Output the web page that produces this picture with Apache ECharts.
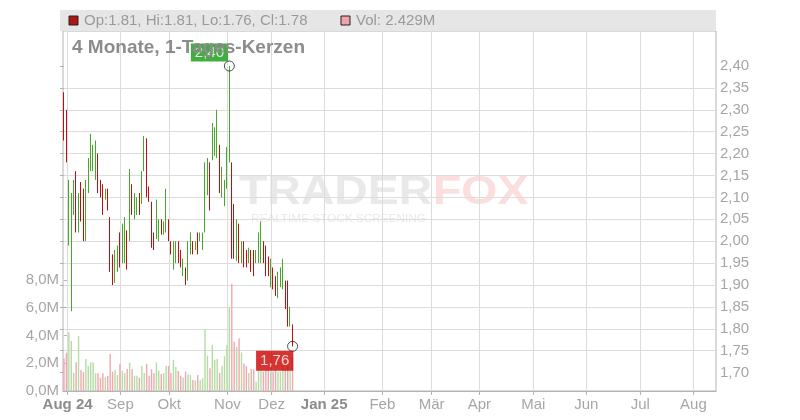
<!DOCTYPE html>
<html><head><meta charset="utf-8">
<script src="https://cdn.jsdelivr.net/npm/echarts@6/dist/echarts.min.js"></script>
<style>html,body{margin:0;padding:0;background:#fff}#c{width:800px;height:420px}</style>
</head><body><div id="c"></div><script>
const openP = [2.33,2.28,2.00,1.90,2.07,2.14,2.04,2.12,2.10,2.02, 2.12,2.17,2.17,2.15,2.19,2.13,2.12,2.10,2.11,2.04, 1.96,1.92,1.94,2.01,1.96,1.96,2.01,2.01,2.12,2.06, 2.065,2.10,2.09,2.17,2.22,2.12,2.08,2.01,2.01,2.01, 2.04,2.02,2.03,2.04,1.995,1.94,1.955,1.99,1.975,1.925, 1.935,1.915,1.975,1.995,1.985,2.01,2.005,1.985,2.03,2.11, 2.17,2.19,2.20,2.20,2.21,2.11,2.09,2.13,2.19,2.17, 2.07,1.96,2.03,1.955,1.99,1.975,1.955,1.975,1.97,1.955, 1.955,1.96,1.99,1.98,1.96,1.90,1.935,1.915,1.875,1.90, 1.895,1.905,1.90,1.81,1.81];
const closeP = [2.24,2.19,2.13,2.08,2.12,2.04,2.10,2.06,2.02,2.12, 2.18,2.23,2.21,2.22,2.12,2.10,2.07,2.115,2.08,1.94, 1.91,1.97,1.98,1.95,2.03,2.05,1.95,2.15,2.07,2.10, 2.095,2.065,2.15,2.23,2.11,2.095,2.00,1.985,2.09,2.04, 2.02,2.04,2.11,2.01,1.975,1.99,1.99,1.955,1.945,1.955, 1.905,1.99,2.01,1.975,1.995,1.975,2.015,2.015,2.17,2.18, 2.08,2.26,2.25,2.29,2.12,2.16,2.13,2.20,2.30,1.97, 1.97,2.04,1.96,1.99,1.945,1.945,1.98,1.935,1.925,1.975, 2.01,2.04,1.955,1.925,1.925,1.955,1.895,1.88,1.925,1.935, 1.955,1.85,1.81,1.845,1.78];
const lowP = [2.23,2.18,1.99,1.84,2.06,2.02,2.02,2.045,2.00,2.00, 2.11,2.16,2.16,2.14,2.11,2.10,2.06,2.095,2.07,1.93, 1.90,1.905,1.93,1.94,1.95,1.95,1.935,2.00,2.06,2.05, 2.06,2.06,2.085,2.16,2.10,2.09,1.985,1.98,2.005,2.00, 2.015,2.015,2.02,2.00,1.97,1.935,1.95,1.95,1.94,1.92, 1.90,1.91,1.97,1.97,1.98,1.97,2.00,1.98,2.02,2.105, 2.07,2.185,2.195,2.19,2.11,2.10,2.08,2.12,2.18,1.96, 1.96,1.955,1.95,1.95,1.94,1.94,1.95,1.93,1.92,1.95, 1.95,1.95,1.95,1.92,1.92,1.895,1.89,1.875,1.87,1.895, 1.89,1.845,1.805,1.805,1.76];
const highP = [2.34,2.30,2.14,2.11,2.14,2.16,2.11,2.135,2.12,2.14, 2.19,2.245,2.22,2.23,2.20,2.14,2.13,2.12,2.12,2.055, 1.97,1.98,1.99,2.02,2.04,2.055,2.025,2.165,2.13,2.11, 2.10,2.11,2.16,2.24,2.235,2.125,2.09,2.02,2.095,2.05, 2.05,2.045,2.12,2.05,2.00,2.00,2.00,2.00,1.98,1.96, 1.94,2.00,2.02,2.00,2.00,2.02,2.02,2.02,2.18,2.19, 2.18,2.27,2.26,2.30,2.22,2.17,2.14,2.215,2.40,2.18, 2.085,2.05,2.04,2.00,2.00,1.98,1.985,1.98,1.98,1.98, 2.02,2.045,2.00,1.99,1.965,1.96,1.94,1.92,1.93,1.94, 1.96,1.91,1.91,1.85,1.81];
const volumeM = [2.35,2.76,4.22,3.6,1.3,2.06,3.96,1.51,1.35,2.3, 1.8,2.06,2.06,1.27,1.27,0.96,1.27,0.98,1.08,2.66, 1.39,1.51,1.15,1.94,1.44,1.3,1.58,2.04,1.56,1.1, 1.1,0.96,1.8,1.3,1.94,1.1,1.56,1.3,2.06,1.47, 1.22,1.3,1.8,1.8,1.3,2.25,1.72,1.44,1.1,0.98, 1.39,1.2,1.15,0.8,0.75,1.15,0.8,0.92,4.44,2.54, 1.63,3.31,2.25,2.3,1.3,1.8,2.5,3.31,6.02,7.7, 3.55,3.19,3.79,2.78,1.97,1.8,1.3,1.58,1.56,0.67, 1.51,1.51,1.39,1.51,1.51,1.39,1.39,1.51,1.39,1.39, 1.8,1.51,1.8,1.51,2.43];
const priceTicks = [1.70,1.75,1.80,1.85,1.90,1.95,2.00,2.05,2.10,2.15,2.20,2.25,2.30,2.35,2.40];
const volumeTicks = [0,2,4,6,8];
const monthTickPos = [1.5,23.2,43.3,67.2,85.4,107,130.9,151.2,170.8,193,214.8,237,258.8];
const monthLabels = ['Aug 24','Sep','Okt','Nov','Dez','Jan 25','Feb','Mär','Apr','Mai','Jun','Jul','Aug'];
const boldMonths = ['Aug 24','Jan 25'];
const headerText = 'Op:1.81, Hi:1.81, Lo:1.76, Cl:1.78';
const volText = 'Vol: 2.429M';
const titleText = '4 Monate, 1-Tages-Kerzen';

const GREEN = '#44a828', RED = '#c00d0d', VGREEN = '#b5dca4', VRED = '#f2a6ae';
const FONT = '"Liberation Sans", Arial, sans-serif';
const fmtP = v => v.toFixed(2).replace('.', ',');

const candles = openP.map((o, i) => [i, o, closeP[i], lowP[i], highP[i]]);
const vols = volumeM.map((v, i) => [i, v]);
let peakIdx = 0; highP.forEach((h, i) => { if (h > highP[peakIdx]) peakIdx = i; });
const lastIdx = lowP.length - 1;

const chart = echarts.init(document.getElementById('c'), null, {renderer: 'canvas'});
chart.setOption({
  animation: false,
  textStyle: {fontFamily: FONT},
  grid: [
    {left: 63, right: 84, top: 22.2, bottom: 25.5},
    {left: 63, right: 84, top: 31, bottom: 29, show: true, borderColor: '#b4b4b4', borderWidth: 1, backgroundColor: 'transparent'}
  ],
  xAxis: [
    {gridIndex: 0, type: 'value', min: -0.4, max: 268.1, show: false},
    {gridIndex: 1, type: 'value', min: -0.4, max: 268.1,
      axisLine: {show: true, lineStyle: {color: '#b4b4b4'}},
      axisTick: {show: true, length: 4, customValues: monthTickPos, lineStyle: {color: '#b4b4b4'}},
      splitLine: {show: true, lineStyle: {color: '#dcdcdc'}},
      axisLabel: {customValues: monthTickPos, margin: 6, fontSize: 15, color: '#a6a6a6', fontFamily: FONT,
        formatter: v => { const n = monthLabels[monthTickPos.indexOf(v)] || ''; return boldMonths.includes(n) ? '{b|' + n + '}' : n; },
        rich: {b: {fontWeight: 'bold', color: '#8c8c8c', fontSize: 15, fontFamily: FONT}}}
    }
  ],
  yAxis: [
    {gridIndex: 0, type: 'value', position: 'right', min: 1.65, max: 2.50, interval: 0.05,
      axisLine: {show: false},
      axisTick: {show: true, inside: true, length: 4, customValues: priceTicks, lineStyle: {color: '#b4b4b4'}},
      splitLine: {show: true, showMinLine: false, showMaxLine: false, lineStyle: {color: '#dcdcdc'}},
      axisLabel: {customValues: priceTicks, margin: 4, fontSize: 15, color: '#a6a6a6', fontFamily: FONT, formatter: fmtP}
    },
    {gridIndex: 1, type: 'value', position: 'left', min: 0, max: 25.9,
      axisLine: {show: false},
      axisTick: {show: true, inside: true, length: 3, customValues: volumeTicks, lineStyle: {color: '#b4b4b4'}},
      splitLine: {show: false},
      axisLabel: {customValues: volumeTicks, margin: 4, fontSize: 15, color: '#a6a6a6', fontFamily: FONT,
        formatter: v => v.toFixed(1).replace('.', ',') + 'M'}
    }
  ],
  series: [
    {type: 'bar', xAxisIndex: 1, yAxisIndex: 1, data: vols, barWidth: 1.4, z: 2,
      itemStyle: {color: p => closeP[p.dataIndex] >= openP[p.dataIndex] ? VGREEN : VRED}},
    {type: 'candlestick', xAxisIndex: 0, yAxisIndex: 0, data: candles, barWidth: 1, z: 3,
      encode: {x: 0, y: [1, 2, 3, 4]},
      itemStyle: {color: GREEN, color0: RED, borderColor: GREEN, borderColor0: RED, borderWidth: 1}},
    {type: 'scatter', xAxisIndex: 0, yAxisIndex: 0, z: 5, symbol: 'circle', symbolSize: 10,
      itemStyle: {color: 'rgba(255,255,255,0)', borderColor: '#222', borderWidth: 1},
      data: [
        {value: [peakIdx, highP[peakIdx]], label: {show: true, formatter: fmtP(highP[peakIdx]), position: [-33, -17],
          backgroundColor: '#139913', color: '#fff', fontSize: 15, lineHeight: 16, padding: [1, 4, 1, 4], fontFamily: FONT}},
        {value: [lastIdx, lowP[lastIdx]], label: {show: true, formatter: fmtP(lowP[lastIdx]), position: [-31, 10],
          backgroundColor: '#cc0000', color: '#fff', fontSize: 15, lineHeight: 16, padding: [2, 4, 2, 4], fontFamily: FONT}}
      ]}
  ],
  graphic: [
    {type: 'text', z: -1, left: 239, top: 173, scaleX: 1.16, style: {text: 'TRADER', fill: '#e9e9e9', font: 'bold 40px ' + FONT}},
    {type: 'text', z: -1, left: 433, top: 173, scaleX: 1.16, style: {text: 'FOX', fill: '#fcdede', font: 'bold 40px ' + FONT}},
    {type: 'text', z: -1, left: 251, top: 213, scaleX: 1.07, style: {text: 'REALTIME STOCK SCREENING', fill: '#e9e9e9', font: '11px ' + FONT}},
    {type: 'rect', z: 100, shape: {x: 60, y: 10, width: 656, height: 21}, style: {fill: '#e6e6e6'}},
    {type: 'rect', z: 101, shape: {x: 69, y: 16, width: 9, height: 9}, style: {fill: '#b01515', stroke: '#222', lineWidth: 1}},
    {type: 'text', z: 101, x: 84, y: 21, style: {text: headerText, fill: '#9a9a9a', font: '15px ' + FONT, verticalAlign: 'middle'}},
    {type: 'rect', z: 101, shape: {x: 341, y: 16, width: 9, height: 9}, style: {fill: '#f0a3ab', stroke: '#222', lineWidth: 1}},
    {type: 'text', z: 101, x: 356, y: 21, style: {text: volText, fill: '#9a9a9a', font: '15px ' + FONT, verticalAlign: 'middle'}},
    {type: 'text', z: 101, x: 72, y: 48, style: {text: titleText, fill: '#8c8c8c', font: 'bold 19px ' + FONT, verticalAlign: 'middle'}}
  ]
});
</script></body></html>
